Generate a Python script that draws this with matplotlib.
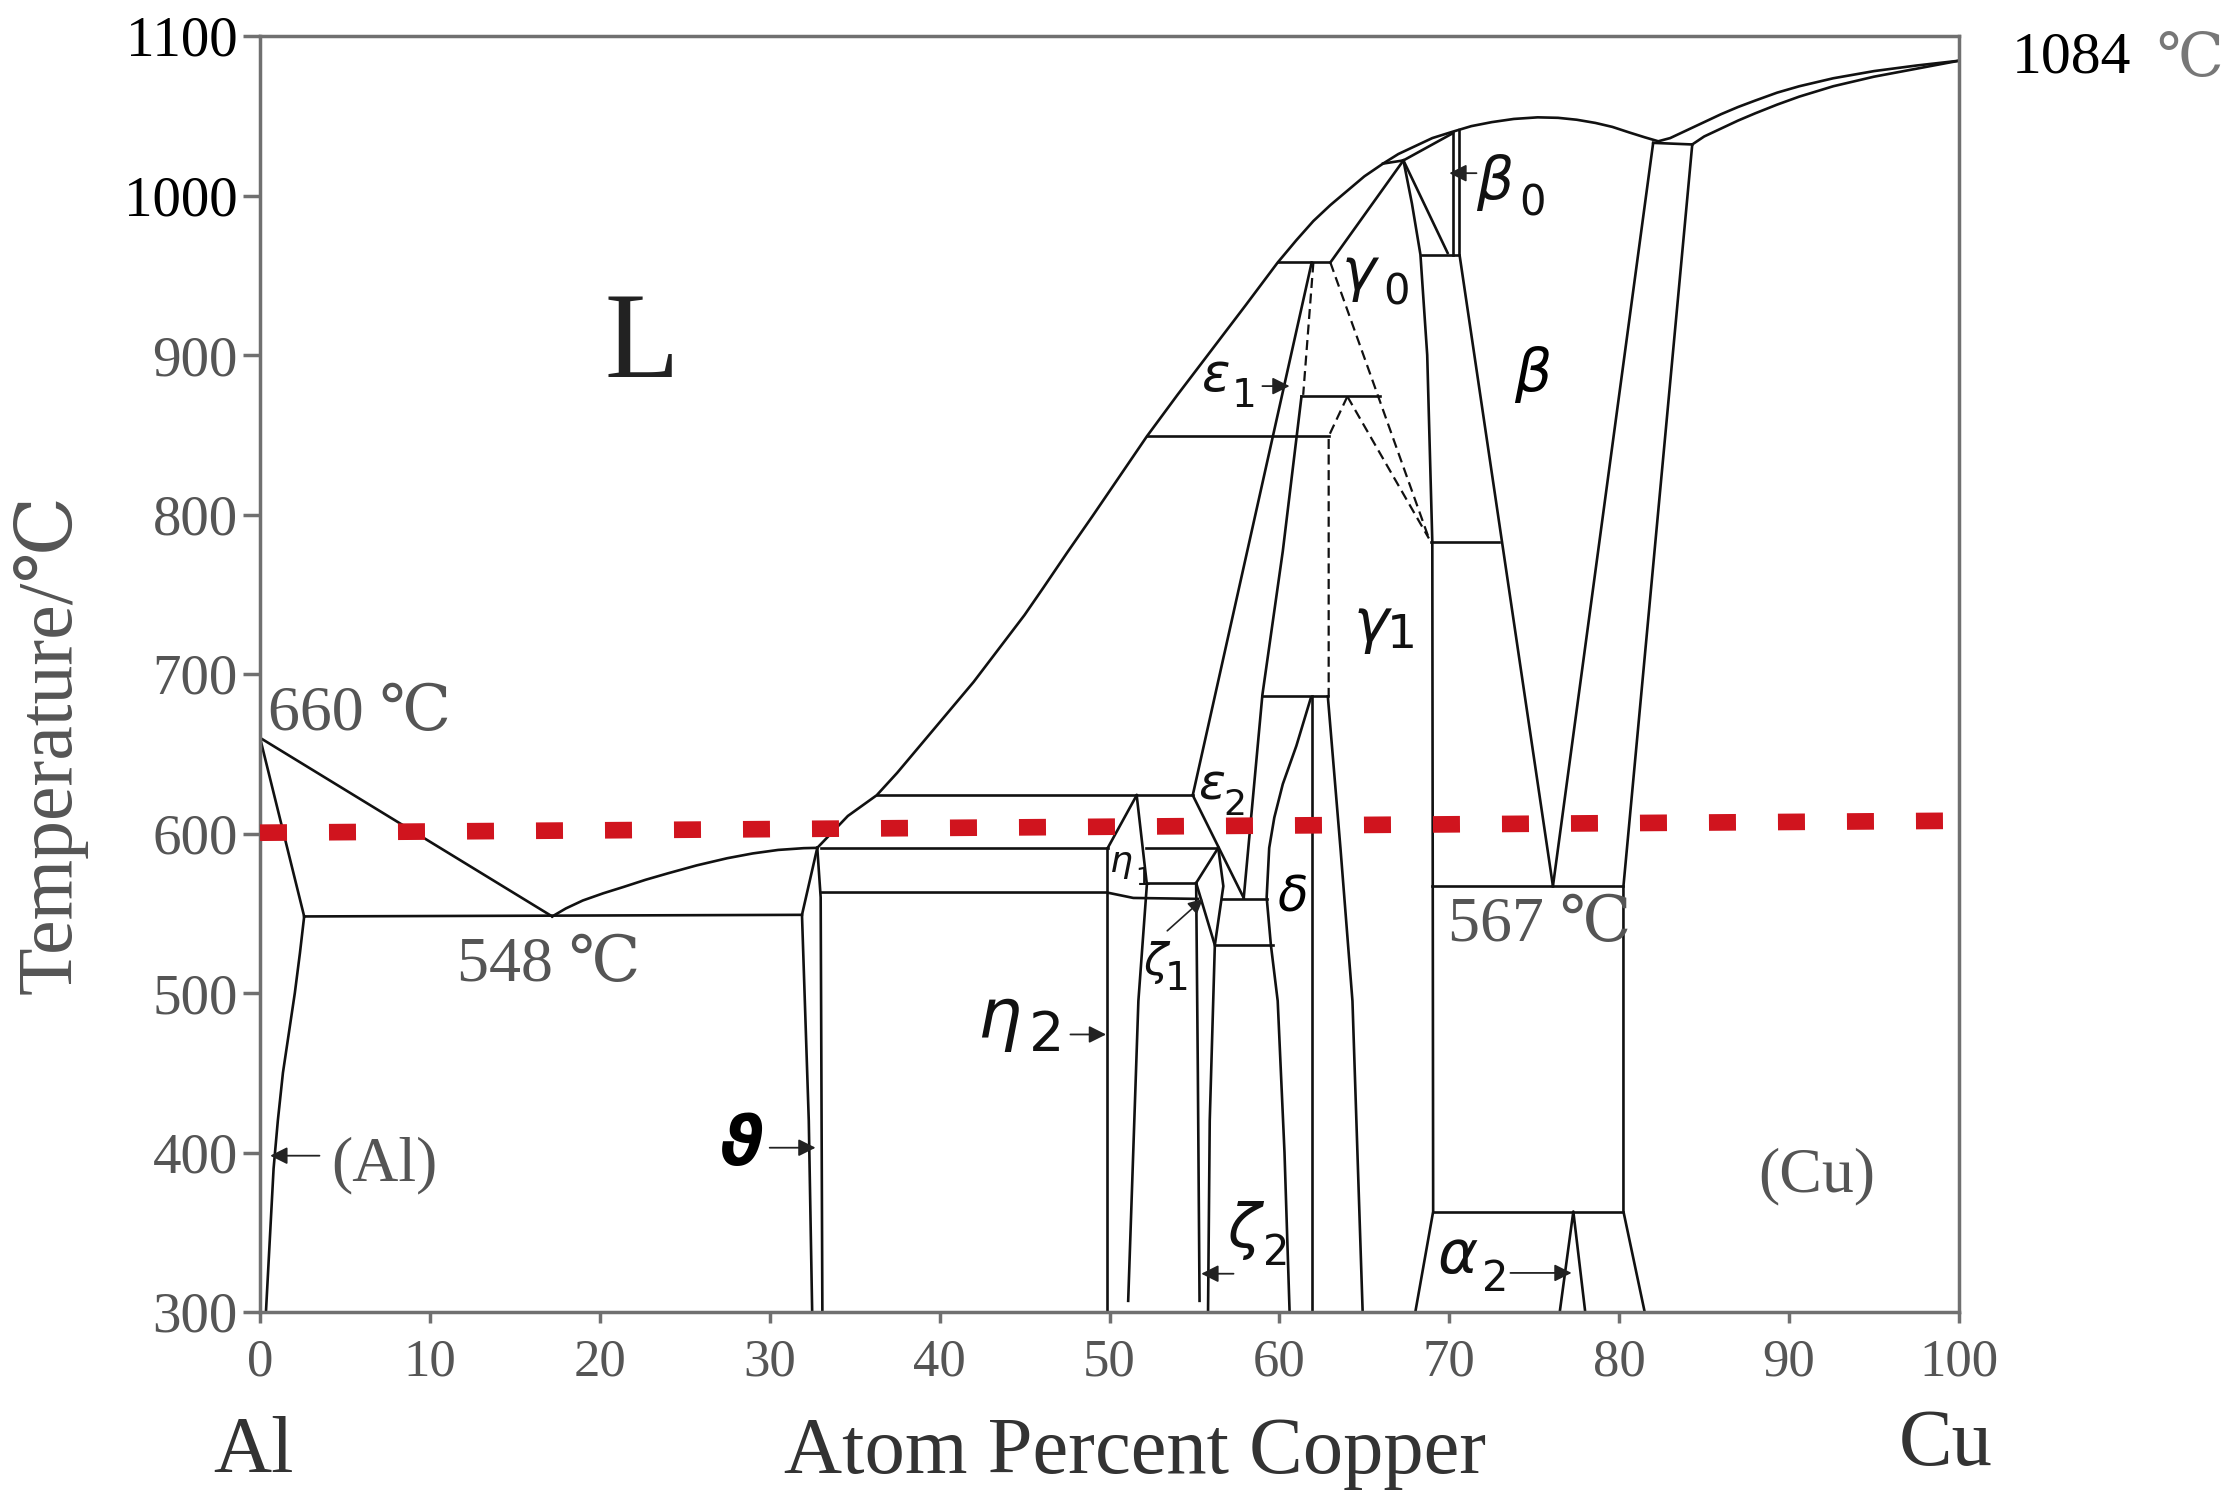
import matplotlib
matplotlib.use("Agg")
import matplotlib.pyplot as plt

# ---- data: composition in at.% Cu, temperature in deg C ----
x_ticks = list(range(0, 101, 10))
t_ticks = list(range(300, 1101, 100))
t_tick_labels = [str(t) for t in t_ticks]

liquidus_al = [(0, 660), (17.2, 548)]
solidus_al = [(0, 660), (2.6, 548)]
solvus_al = [(2.6, 548), (2.35, 525), (2.05, 500), (1.7, 475), (1.35, 450),
             (1.05, 420), (0.8, 390), (0.6, 350), (0.45, 320), (0.35, 300)]
eutectic_548 = [(2.6, 548), (31.9, 549)]
liquidus_theta = [(17.2, 548), (18, 553), (19, 558), (20.2, 562.5), (21.4, 566.5),
                  (22.7, 571), (24, 575), (25.7, 580), (27.5, 584.5), (29, 587.5),
                  (30.5, 589.7), (32, 590.8), (32.8, 591)]
theta_left = [(32.8, 591), (31.9, 549), (32.3, 420), (32.5, 300)]
theta_right = [(32.8, 591), (33.0, 560), (33.1, 300)]
liquidus_main = [(32.8, 591), (33.7, 601), (34.6, 611), (36.3, 624), (37.5, 638),
                 (39, 657), (40.5, 676), (42, 695), (43.5, 716), (45, 737),
                 (46.1, 754), (47.5, 776), (49, 799), (50.6, 824), (52.2, 849),
                 (54, 875), (56, 903), (58, 931), (59.9, 958), (61, 972),
                 (62, 984), (63, 994), (64, 1003), (65, 1012), (66.1, 1020),
                 (67, 1026), (68, 1031), (69, 1036), (70.2, 1040), (71.3, 1043.5),
                 (72.5, 1046), (73.8, 1048), (75.2, 1049), (76.4, 1048.7),
                 (77.5, 1047.5), (78.6, 1045.5), (79.6, 1043), (80.6, 1039.5),
                 (81.5, 1036.5), (82.3, 1034), (83, 1036), (84, 1041), (85, 1046),
                 (86, 1051), (87, 1055.5), (88, 1059.5), (89.3, 1064.5),
                 (90.6, 1068.5), (92.6, 1073.5), (95, 1078), (97.5, 1081.5),
                 (100, 1084.5)]
solidus_cu = [(84.3, 1032), (85, 1037), (86, 1042), (87, 1047), (88, 1051.5),
              (89.3, 1057), (90.6, 1062), (92.6, 1068.5), (95, 1074.5),
              (97.5, 1079.5), (100, 1084.5)]
peritectic_1033 = [(82.0, 1033), (84.3, 1032)]
line_591 = [(33.0, 591), (49.9, 591)]
line_563 = [(33.1, 563), (49.85, 563), (51.4, 559.6), (55.2, 559)]
line_624 = [(36.3, 624), (54.9, 624)]
eta2_left = [(49.85, 591), (49.85, 300)]
eta1_left = [(49.9, 591), (51.6, 624)]
eta1_right = [(51.6, 624), (52.2, 568), (51.7, 495), (51.1, 307)]
line_590 = [(52.15, 591), (56.4, 591)]
line_569 = [(52.2, 569), (55.1, 569)]
eps_left = [(54.9, 624), (61.9, 958)]
eps2_low = [(54.9, 624), (57.9, 559.6)]
eps_right = [(61.3, 874), (60.2, 777), (59.0, 687), (57.9, 559.6)]
zeta_left = [(56.4, 591), (55.1, 569), (55.2, 450), (55.3, 307)]
zeta_mid = [(55.1, 569), (56.2, 530)]
zeta_right = [(56.4, 591), (56.7, 567), (56.2, 530), (55.9, 420), (55.8, 300)]
line_559 = [(56.6, 559), (59.25, 559)]
line_530 = [(56.2, 530), (59.6, 530)]
delta_left = [(61.85, 685), (61.0, 655), (60.2, 631), (59.7, 610), (59.4, 591),
              (59.25, 560), (59.5, 530), (59.9, 495), (60.3, 400), (60.6, 300)]
delta_right = [(61.9, 686), (61.9, 300)]
line_686 = [(59.0, 686), (62.85, 686)]
gamma1_left = [(62.85, 686), (63.6, 590), (64.3, 495), (64.9, 300)]
line_848 = [(52.2, 849), (62.9, 849)]
line_875 = [(61.3, 874), (65.9, 874)]
line_958 = [(59.9, 958), (62.9, 958)]
gamma0_left = [(63.0, 958), (67.3, 1022)]
line_1022 = [(66.1, 1020), (67.3, 1022)]
gamma0_top = [(67.3, 1022), (70.2, 1039)]
gamma0_right = [(67.3, 1022), (67.8, 995), (68.3, 963), (68.7, 900), (69.0, 783),
                (69.05, 363), (68.0, 300)]
gamma0_diag = [(67.3, 1022), (69.9, 964)]
line_963 = [(68.4, 963), (70.6, 963)]
beta0_a = [(70.2, 963), (70.2, 1040)]
beta_left = [(70.6, 1041), (70.6, 963), (76.1, 567)]
line_783 = [(68.9, 783), (72.9, 783)]
beta_right = [(82.0, 1033), (76.1, 567)]
alpha_solvus = [(84.3, 1032), (80.25, 567), (80.25, 363), (81.5, 300)]
line_567 = [(69.0, 567), (80.25, 567)]
line_363 = [(69.05, 363), (80.25, 363)]
alpha2 = [(76.5, 300), (77.3, 363), (78.0, 300)]

dash_1 = [(62.0, 958), (61.4, 875)]
dash_2 = [(63.0, 958), (68.8, 785)]
dash_3 = [(64.0, 874), (68.8, 785)]
dash_4 = [(64.0, 874), (62.9, 849), (62.9, 686)]

red_x = [0.0, 101.3]
red_t = [600.5, 608.1]

solid_lines = [liquidus_al, solidus_al, solvus_al, eutectic_548, liquidus_theta,
               theta_left, theta_right, liquidus_main, solidus_cu, peritectic_1033,
               line_591, line_563, line_624, eta2_left, eta1_left, eta1_right,
               line_590, line_569, eps_left, eps2_low, eps_right, zeta_left,
               zeta_mid, zeta_right, line_559, line_530, delta_left, delta_right,
               line_686, gamma1_left, line_848, line_875, line_958, gamma0_left,
               line_1022, gamma0_top, gamma0_right, gamma0_diag, line_963,
               beta0_a, beta_left, line_783, beta_right, alpha_solvus, line_567,
               line_363, alpha2]
dashed_lines = [dash_1, dash_2, dash_3, dash_4]

plt.rcParams['font.family'] = ['Liberation Serif', 'DejaVu Serif']
plt.rcParams['mathtext.fontset'] = 'dejavusans'

GREY = '#555555'
W, H = 2223, 1506

fig = plt.figure(figsize=(W / 100, H / 100), dpi=100)
ax = fig.add_axes([260 / W, 1 - 1312 / H, (1959 - 260) / W, (1312 - 36) / H])
ax.set_xlim(0, 100)
ax.set_ylim(300, 1100)

for seg in solid_lines:
    xs, ts = zip(*seg)
    ax.plot(xs, ts, color='#111111', lw=1.9, solid_joinstyle='round')
for seg in dashed_lines:
    xs, ts = zip(*seg)
    ax.plot(xs, ts, color='#111111', lw=1.6, dashes=(4.5, 2.5))

ax.plot(red_x, red_t, color='#d0141e', lw=12, dashes=(1.62, 2.52),
        clip_on=False, zorder=5)

# axes, ticks
ax.set_xticks(x_ticks)
ax.set_yticks(t_ticks)
ax.set_yticklabels(t_tick_labels)
for sp in ax.spines.values():
    sp.set_color('#707070')
    sp.set_linewidth(2.5)
ax.tick_params(axis='y', direction='out', length=12, width=2.5, color='#707070',
               pad=4, labelsize=41, labelcolor=GREY)
ax.tick_params(axis='x', direction='out', length=8, width=2.5, color='#707070',
               pad=11, labelsize=38, labelcolor=GREY)
for lbl in ax.get_yticklabels():
    if lbl.get_text() in ('1000', '1100'):
        lbl.set_color('black')

# serif annotations
ax.text(22.5, 905, 'L', fontsize=88, color='#222222', ha='center', va='center')
ax.text(0.5, 674, '660 ℃', fontsize=46, color=GREY, ha='left', va='center')
ax.text(11.6, 517, '548 ℃', fontsize=46, color=GREY, ha='left', va='center')
ax.text(69.9, 542, '567 ℃', fontsize=46, color=GREY, ha='left', va='center')
ax.text(7.3, 392, '(Al)', fontsize=46, color=GREY, ha='center', va='center')
ax.text(91.6, 385, '(Cu)', fontsize=46, color=GREY, ha='center', va='center')
ax.text(103.1, 1086, '1084', fontsize=43, color='black', ha='left',
        va='center', clip_on=False)
ax.text(111.6, 1084, '℃', fontsize=43, color='#777777', ha='left',
        va='center', clip_on=False)


def greek(letter, x, t, size, sub, sx, st, subsize):
    ax.text(x, t, letter, fontsize=size, family='DejaVu Sans', style='italic',
            ha='center', va='center', color='#111111')
    ax.text(sx, st, sub, fontsize=subsize, family='DejaVu Sans',
            ha='center', va='center', color='#111111')


def pointer(x0, x1, t):
    ax.annotate('', xy=(x1, t), xytext=(x0, t),
                arrowprops=dict(arrowstyle='-|>', color='#222222', lw=1.3,
                                mutation_scale=26, shrinkA=0, shrinkB=0))


greek('γ', 64.7, 951, 42, '0', 66.9, 939, 30)
greek('β', 72.7, 1008, 42, '0', 74.9, 995, 30)
pointer(71.6, 70.0, 1014)
ax.text(74.9, 888, 'β', fontsize=42, family='DejaVu Sans', style='italic',
        ha='center', va='center')
greek('ε', 56.3, 887, 38, '1', 57.9, 874, 28)
pointer(59.0, 60.6, 880.5)
greek('γ', 65.4, 731, 43, '1', 67.2, 724, 34)
greek('ε', 56.0, 630, 36, '2', 57.4, 618, 26)
greek('η', 50.7, 582, 26, '1', 52.0, 572, 18)
ax.text(60.8, 560, 'δ', fontsize=36, family='DejaVu Sans', style='italic',
        ha='center', va='center')
greek('ζ', 52.7, 519, 32, '1', 54.0, 509, 28)
ax.annotate('', xy=(55.5, 559), xytext=(53.4, 539),
            arrowprops=dict(arrowstyle='-|>', color='#222222', lw=1.2,
                            mutation_scale=22, shrinkA=0, shrinkB=0))
greek('η', 43.5, 484, 50, '2', 46.3, 473, 40)
pointer(47.7, 49.8, 474)
ax.text(28.3, 404, 'ϑ', fontsize=48, family='DejaVu Sans', style='italic',
        ha='center', va='center', fontweight='bold')
pointer(30.0, 32.7, 403)
greek('ζ', 57.9, 351, 44, '2', 59.8, 337, 30)
pointer(57.3, 55.4, 324)
greek('α', 70.5, 335, 44, '2', 72.7, 321, 30)
pointer(73.6, 77.2, 324.5)
pointer(3.5, 0.6, 398)

# outside labels
fig.text(50 / W, 1 - 744 / H, 'Temperature/℃', rotation=90, fontsize=56,
         color=GREY, ha='center', va='center')
fig.text(253 / W, 1 - 1453 / H, 'Al', fontsize=58, color='#333333',
         ha='center', va='center')
fig.text(1135 / W, 1 - 1453 / H, 'Atom Percent Copper', fontsize=58,
         color='#333333', ha='center', va='center')
fig.text(1946 / W, 1 - 1446 / H, 'Cu', fontsize=58, color='#333333',
         ha='center', va='center')

fig.savefig('out.png', dpi=100, facecolor='white')
